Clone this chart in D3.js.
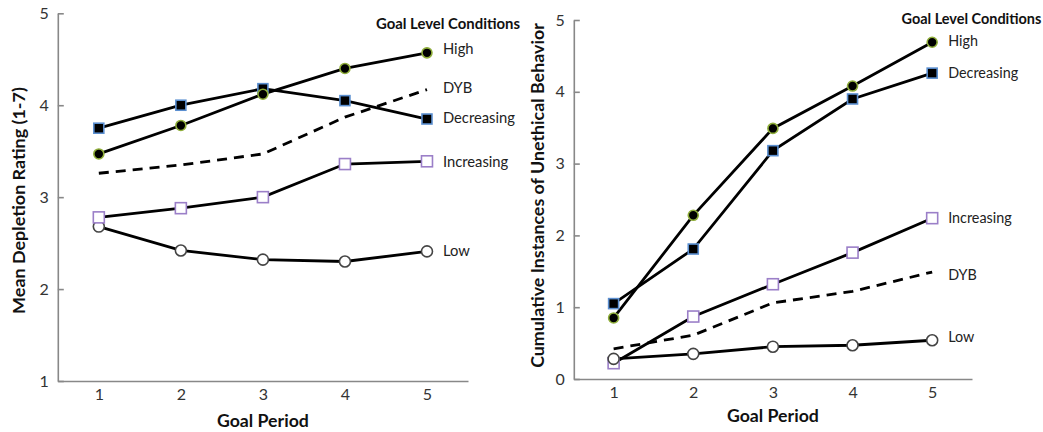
<!DOCTYPE html>
<html><head><meta charset="utf-8">
<script src="https://cdn.jsdelivr.net/npm/d3@7"></script>
<style>body{margin:0;background:#fff}svg{display:block}</style>
</head><body>
<svg id="c" width="1043" height="432"></svg>
<script>
const periods = [1, 2, 3, 4, 5];
const seriesNames = ["High", "Decreasing", "DYB", "Increasing", "Low"];

// Left panel: Mean Depletion Rating (1-7)
const depletionHigh = [3.47, 3.78, 4.12, 4.40, 4.57];
const depletionDecreasing = [3.75, 4.00, 4.18, 4.05, 3.85];
const depletionDYB = [3.26, 3.35, 3.47, 3.87, 4.17];
const depletionIncreasing = [2.78, 2.88, 3.00, 3.36, 3.39];
const depletionLow = [2.68, 2.42, 2.32, 2.30, 2.41];
const depletionTicks = [1, 2, 3, 4, 5];

// Right panel: Cumulative Instances of Unethical Behavior
const unethicalHigh = [0.85, 2.28, 3.49, 4.08, 4.69];
const unethicalDecreasing = [1.05, 1.81, 3.18, 3.90, 4.26];
const unethicalDYB = [0.42, 0.61, 1.06, 1.22, 1.49];
const unethicalIncreasing = [0.22, 0.87, 1.32, 1.76, 2.24];
const unethicalLow = [0.28, 0.35, 0.45, 0.47, 0.54];
const unethicalTicks = [0, 1, 2, 3, 4, 5];

const FONT = "Lato, 'Open Sans', sans-serif";
const svg = d3.select("#c");

const styles = {
  High: {shape: "circle", fill: "#000", stroke: "#8fae3a", size: 5},
  Decreasing: {shape: "square", fill: "#000", stroke: "#5b8fd0", size: 10},
  DYB: {shape: null, dash: "10,7"},
  Increasing: {shape: "square", fill: "#fff", stroke: "#9b7fc8", size: 11},
  Low: {shape: "circle", fill: "#fff", stroke: "#444", size: 5.5}
};

// scale a text's font size so it spans the target width
function fit(sel, target) {
  const n = sel.node();
  const fs = parseFloat(sel.attr("font-size"));
  const w = n.getComputedTextLength();
  if (w > 0) sel.attr("font-size", (fs * target / w).toFixed(2));
  return sel;
}

function panel(cfg) {
  const g = svg.append("g");
  const x = d3.scaleLinear().domain([0.5, 5.5]).range([cfg.x0, cfg.x1]);
  const y = d3.scaleLinear().domain(cfg.ydom).range([cfg.y0, cfg.y1]);

  const ya = g.append("g").attr("transform", `translate(${cfg.x0},0)`)
    .call(d3.axisLeft(y).tickValues(cfg.ticks).tickSizeInner(-6).tickSizeOuter(0).tickPadding(9).tickFormat(d3.format("d")));
  const xa = g.append("g").attr("transform", `translate(0,${cfg.y0})`)
    .call(d3.axisBottom(x).tickValues(periods).tickSize(0).tickPadding(8).tickFormat(d3.format("d")));
  [ya, xa].forEach(a => {
    a.select(".domain").attr("stroke", "#888").attr("stroke-width", 1.6);
    a.selectAll(".tick line").attr("stroke", "#888").attr("stroke-width", 1.6);
    a.selectAll("text").attr("font-family", FONT).attr("font-size", 16).attr("fill", "#333");
  });

  const line = d3.line().x((d, i) => x(periods[i])).y(d => y(d));
  cfg.series.forEach(([name, vals]) => {
    const st = styles[name];
    g.append("path").datum(vals).attr("d", line).attr("fill", "none")
      .attr("stroke", "#000").attr("stroke-width", 2.8)
      .attr("stroke-dasharray", st.dash || null);
  });
  cfg.series.forEach(([name, vals]) => {
    const st = styles[name];
    if (!st.shape) return;
    const m = g.append("g").selectAll("x").data(vals).join(st.shape === "circle" ? "circle" : "rect");
    if (st.shape === "circle") {
      m.attr("cx", (d, i) => x(periods[i])).attr("cy", d => y(d)).attr("r", st.size);
    } else {
      m.attr("x", (d, i) => x(periods[i]) - st.size / 2).attr("y", d => y(d) - st.size / 2)
        .attr("width", st.size).attr("height", st.size);
    }
    m.attr("fill", st.fill).attr("stroke", st.stroke).attr("stroke-width", 1.6);
  });

  // series labels, sized so "Decreasing" spans the measured width
  const labs = cfg.labels.map(([name, ly]) =>
    g.append("text").attr("x", x(5) + 16).attr("y", ly).attr("dy", "0.35em")
      .attr("font-family", FONT).attr("font-size", 14).attr("fill", "#222").text(name));
  const dec = labs[cfg.labels.findIndex(l => l[0] === "Decreasing")];
  fit(dec, cfg.decW);
  labs.forEach(l => l.attr("font-size", dec.attr("font-size")));

  fit(g.append("text").attr("x", cfg.legendX).attr("y", cfg.legendY).attr("dy", "0.35em")
    .attr("font-family", FONT).attr("font-size", 13).attr("font-weight", "bold").attr("fill", "#111")
    .text("Goal Level Conditions"), cfg.legendW);

  fit(g.append("text").attr("x", x(3)).attr("y", cfg.xTitleY).attr("text-anchor", "middle").attr("dy", "0.35em")
    .attr("font-family", FONT).attr("font-size", 16).attr("font-weight", "bold").attr("fill", "#111")
    .text("Goal Period"), 92);
  fit(g.append("text").attr("transform", `translate(${cfg.yTitleX},${cfg.yTitleY}) rotate(-90)`)
    .attr("text-anchor", "middle").attr("dy", "0.35em")
    .attr("font-family", FONT).attr("font-size", 16).attr("font-weight", "bold").attr("fill", "#111")
    .text(cfg.yTitle), cfg.yTitleW);
}

panel({
  x0: 57.8, x1: 468, y0: 381, y1: 13.3, ydom: [1, 5], ticks: depletionTicks,
  series: [["DYB", depletionDYB], ["Low", depletionLow], ["Increasing", depletionIncreasing],
           ["Decreasing", depletionDecreasing], ["High", depletionHigh]],
  labels: [["High", 49], ["DYB", 88], ["Decreasing", 118], ["Increasing", 162], ["Low", 251]],
  decW: 72, legendW: 144, legendX: 376, legendY: 24, xTitleY: 421, yTitleX: 19, yTitleY: 200.5,
  yTitleW: 227, yTitle: "Mean Depletion Rating (1-7)"
});
panel({
  x0: 573.8, x1: 972, y0: 379, y1: 20, ydom: [0, 5], ticks: unethicalTicks,
  series: [["DYB", unethicalDYB], ["Increasing", unethicalIncreasing], ["Low", unethicalLow],
           ["Decreasing", unethicalDecreasing], ["High", unethicalHigh]],
  labels: [["High", 40.7], ["Decreasing", 72.7], ["Increasing", 218], ["DYB", 275], ["Low", 337]],
  decW: 70, legendW: 140, legendX: 901.5, legendY: 19, xTitleY: 416, yTitleX: 538, yTitleY: 195.5,
  yTitleW: 345, yTitle: "Cumulative Instances of Unethical Behavior"
});
</script>
</body></html>
